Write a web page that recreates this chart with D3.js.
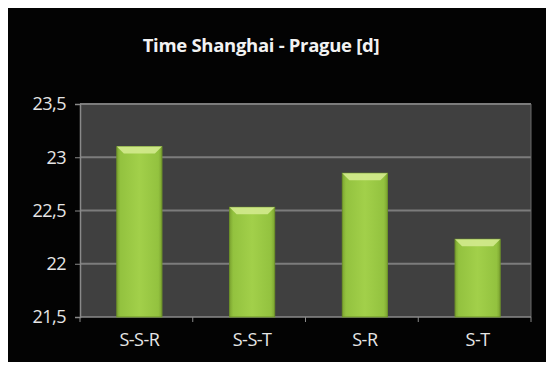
<!DOCTYPE html>
<html>
<head>
<meta charset="utf-8">
<script src="https://cdn.jsdelivr.net/npm/d3@7"></script>
<style>
  body { margin: 0; background: #fff; }
  svg text { font-family: "Open Sans", "DejaVu Sans", sans-serif; }
</style>
</head>
<body>
<div id="chart"></div>
<script>
var routes = ["S-S-R", "S-S-T", "S-R", "S-T"];
var days   = [23.1, 22.53, 22.85, 22.23];
var yTicks = [21.5, 22, 22.5, 23, 23.5];

var width  = 548;
var height = 367;
var plot = {left: 80, right: 531, top: 104, bottom: 317};

var svg = d3.select("#chart")
    .append("svg")
    .attr("width", width)
    .attr("height", height);

// black panel
svg.append("rect")
    .attr("x", 8).attr("y", 8)
    .attr("width", 538).attr("height", 354)
    .attr("fill", "#030303");

var defs = svg.append("defs");
var grad = defs.append("linearGradient")
    .attr("id", "barGrad")
    .attr("x1", "0%").attr("x2", "100%").attr("y1", "0%").attr("y2", "0%");
grad.append("stop").attr("offset", "0%").attr("stop-color", "#7da531");
grad.append("stop").attr("offset", "8%").attr("stop-color", "#93c23f");
grad.append("stop").attr("offset", "50%").attr("stop-color", "#a2d04a");
grad.append("stop").attr("offset", "92%").attr("stop-color", "#93c23f");
grad.append("stop").attr("offset", "100%").attr("stop-color", "#7da531");

var x = d3.scaleBand()
    .domain(routes)
    .range([plot.left + 3, plot.right + 3])
    .paddingInner(0.6)
    .paddingOuter(0.3);

var xTickScale = d3.scaleBand()
    .domain(routes)
    .range([plot.left, plot.right]);

var y = d3.scaleLinear()
    .domain([21.5, 23.5])
    .range([plot.bottom, plot.top]);

var fmt = function(d) { return String(d).replace(".", ","); };

// plot background
svg.append("rect")
    .attr("x", plot.left)
    .attr("y", plot.top)
    .attr("width", plot.right - plot.left)
    .attr("height", plot.bottom - plot.top)
    .attr("fill", "#404040");

// gridlines
svg.append("g")
    .selectAll("line")
    .data(yTicks.slice(1))
    .enter().append("line")
    .attr("x1", plot.left)
    .attr("x2", plot.right)
    .attr("y1", function(d) { return y(d); })
    .attr("y2", function(d) { return y(d); })
    .attr("stroke", "#7c7c7c")
    .attr("stroke-width", 2);

// right border
svg.append("line")
    .attr("x1", plot.right).attr("x2", plot.right)
    .attr("y1", plot.top).attr("y2", plot.bottom)
    .attr("stroke", "#6a6a6a");

// y axis
var yAxis = d3.axisLeft(y)
    .tickValues(yTicks)
    .tickFormat(fmt)
    .tickSize(5)
    .tickPadding(9);

var gy = svg.append("g")
    .attr("transform", "translate(" + plot.left + ",0)")
    .call(yAxis);
gy.select(".domain").attr("stroke", "#8a8a8a").attr("stroke-width", 1.5);
gy.selectAll(".tick line").attr("stroke", "#8a8a8a");
gy.selectAll(".tick text")
    .attr("fill", "#e6e6e6")
    .style("font-size", "18px")
    .style("letter-spacing", "-0.5px");

// x axis
var xAxis = d3.axisBottom(xTickScale)
    .tickSize(0)
    .tickPadding(16);

var gx = svg.append("g")
    .attr("transform", "translate(3," + plot.bottom + ")")
    .call(xAxis);
gx.select(".domain").remove();
gx.selectAll(".tick text")
    .attr("fill", "#e6e6e6")
    .style("font-size", "18px")
    .style("letter-spacing", "-0.5px");

svg.append("line")
    .attr("x1", plot.left).attr("x2", plot.right)
    .attr("y1", plot.bottom).attr("y2", plot.bottom)
    .attr("stroke", "#8a8a8a")
    .attr("stroke-width", 1.5);

svg.append("g")
    .selectAll("line")
    .data(routes.map(function(d) { return xTickScale(d); }).concat([plot.right]))
    .enter().append("line")
    .attr("x1", function(d) { return d; })
    .attr("x2", function(d) { return d; })
    .attr("y1", plot.bottom)
    .attr("y2", plot.bottom + 5)
    .attr("stroke", "#8a8a8a");

// bars
var bar = svg.append("g")
    .selectAll("g")
    .data(routes)
    .enter().append("g");

bar.append("rect")
    .attr("x", function(d) { return x(d); })
    .attr("width", x.bandwidth())
    .attr("y", function(d, i) { return y(days[i]); })
    .attr("height", function(d, i) { return plot.bottom - y(days[i]); })
    .attr("fill", "url(#barGrad)")
    .attr("stroke", "#6e9428")
    .attr("stroke-width", 1);

// top bevel
bar.append("path")
    .attr("d", function(d, i) {
        var x0 = x(d), x1 = x(d) + x.bandwidth(), t = y(days[i]), b = 7;
        return "M" + x0 + "," + t + "L" + x1 + "," + t +
               "L" + (x1 - b) + "," + (t + b) + "L" + (x0 + b) + "," + (t + b) + "Z";
    })
    .attr("fill", "#d3ea8e")
    .attr("opacity", 0.9);

// title
svg.append("text")
    .attr("x", 261)
    .attr("y", 52)
    .attr("text-anchor", "middle")
    .attr("fill", "#f2f2f2")
    .style("font-size", "18.5px")
    .style("font-weight", "bold")
    .style("letter-spacing", "-0.3px")
    .text("Time Shanghai - Prague [d]");
</script>
</body>
</html>
